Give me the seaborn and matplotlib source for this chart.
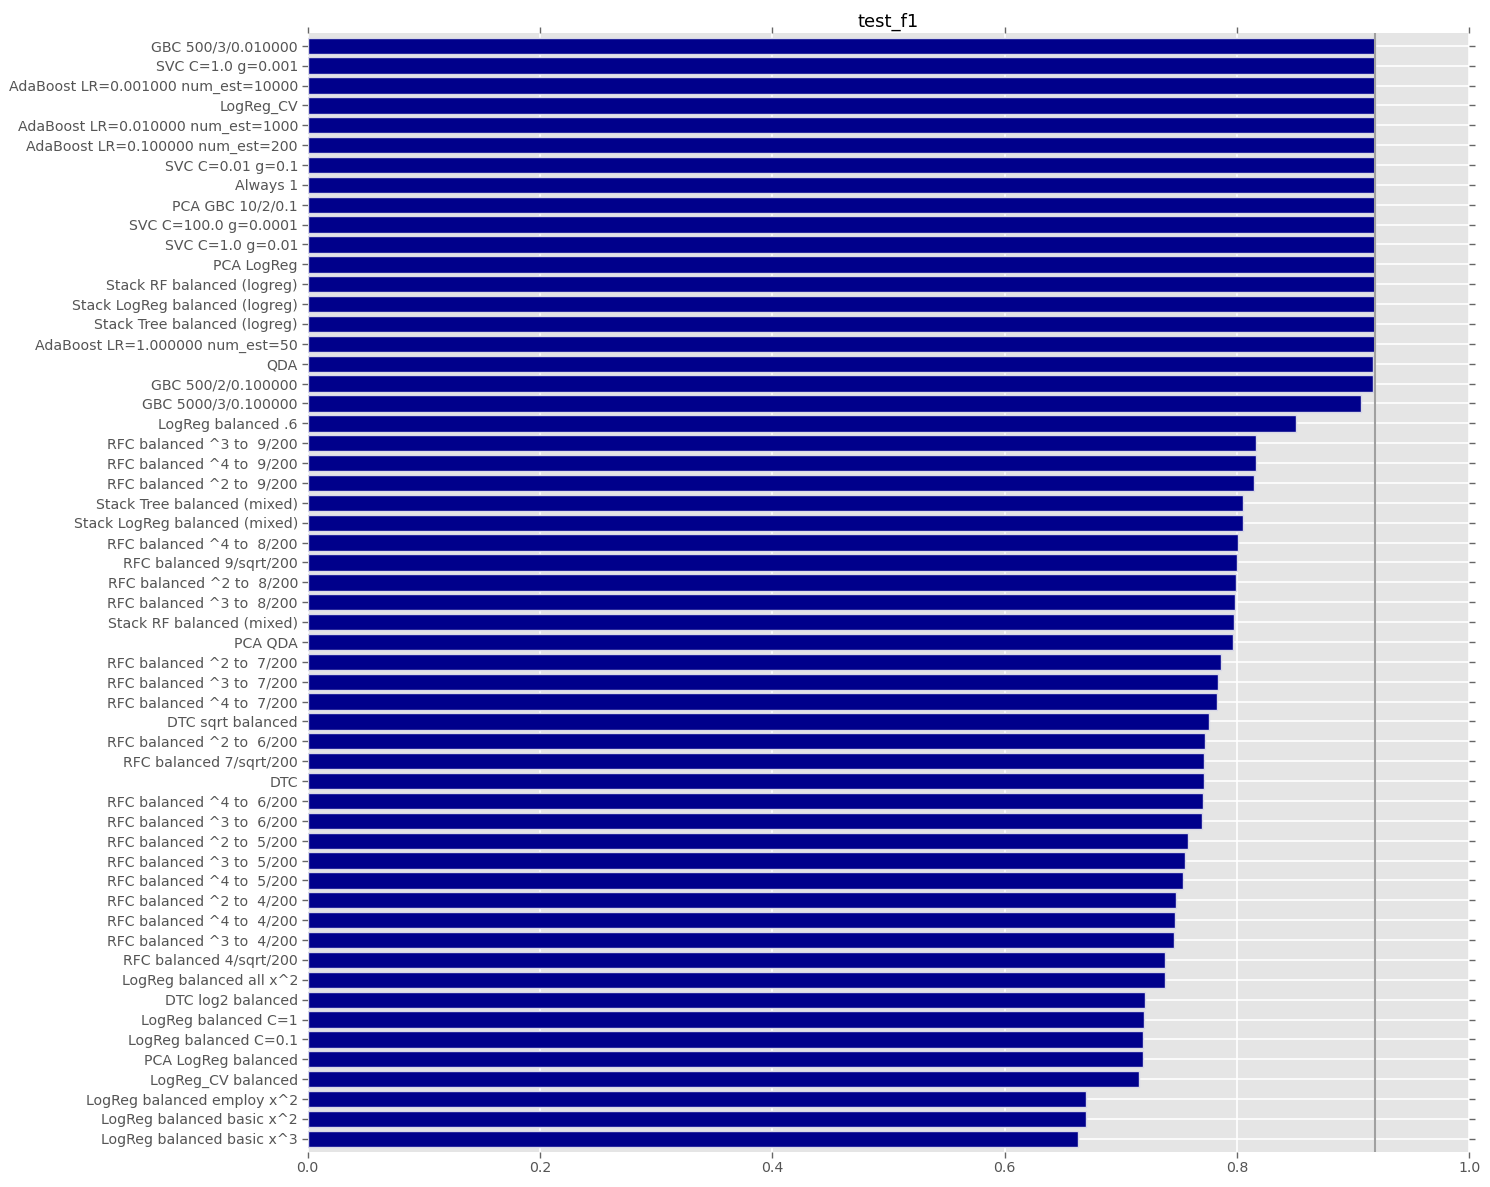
import matplotlib
matplotlib.use("Agg")
import matplotlib.pyplot as plt
import seaborn as sns
import pandas as pd

labels = [
    "GBC 500/3/0.010000", "SVC C=1.0 g=0.001", "AdaBoost LR=0.001000 num_est=10000",
    "LogReg_CV", "AdaBoost LR=0.010000 num_est=1000", "AdaBoost LR=0.100000 num_est=200",
    "SVC C=0.01 g=0.1", "Always 1", "PCA GBC 10/2/0.1", "SVC C=100.0 g=0.0001",
    "SVC C=1.0 g=0.01", "PCA LogReg", "Stack RF balanced (logreg)",
    "Stack LogReg balanced (logreg)", "Stack Tree balanced (logreg)",
    "AdaBoost LR=1.000000 num_est=50", "QDA", "GBC 500/2/0.100000",
    "GBC 5000/3/0.100000", "LogReg balanced .6",
    "RFC balanced ^3 to  9/200", "RFC balanced ^4 to  9/200", "RFC balanced ^2 to  9/200",
    "Stack Tree balanced (mixed)", "Stack LogReg balanced (mixed)",
    "RFC balanced ^4 to  8/200", "RFC balanced 9/sqrt/200", "RFC balanced ^2 to  8/200",
    "RFC balanced ^3 to  8/200", "Stack RF balanced (mixed)", "PCA QDA",
    "RFC balanced ^2 to  7/200", "RFC balanced ^3 to  7/200", "RFC balanced ^4 to  7/200",
    "DTC sqrt balanced", "RFC balanced ^2 to  6/200", "RFC balanced 7/sqrt/200", "DTC",
    "RFC balanced ^4 to  6/200", "RFC balanced ^3 to  6/200", "RFC balanced ^2 to  5/200",
    "RFC balanced ^3 to  5/200", "RFC balanced ^4 to  5/200", "RFC balanced ^2 to  4/200",
    "RFC balanced ^4 to  4/200", "RFC balanced ^3 to  4/200", "RFC balanced 4/sqrt/200",
    "LogReg balanced all x^2", "DTC log2 balanced", "LogReg balanced C=1",
    "LogReg balanced C=0.1", "PCA LogReg balanced", "LogReg_CV balanced",
    "LogReg balanced employ x^2", "LogReg balanced basic x^2", "LogReg balanced basic x^3",
]

test_f1 = [
    0.9191, 0.9191, 0.9191, 0.9191, 0.9191, 0.9191, 0.9191, 0.9191, 0.9191, 0.9191,
    0.9191, 0.9191, 0.9191, 0.9191, 0.9191, 0.9191, 0.9175, 0.9175,
    0.907, 0.851,
    0.8165, 0.8165, 0.815, 0.8053, 0.8053,
    0.801, 0.800, 0.799, 0.7985, 0.7975, 0.7967,
    0.7864, 0.7838, 0.783, 0.776, 0.7726, 0.7717, 0.7717,
    0.771, 0.770, 0.758, 0.7554, 0.7537, 0.7476,
    0.7468, 0.7459, 0.7382, 0.7382, 0.7209, 0.720,
    0.7192, 0.7192, 0.7158, 0.670, 0.670, 0.6632,
]

baseline = 0.9191

sns.set_theme(style="darkgrid")
plt.rcParams["font.family"] = ["DejaVu Sans"]

fig = plt.figure(figsize=(14.9, 11.87), dpi=100)
ax = fig.add_axes([0.2065, 0.0297, 0.986 - 0.2065, 0.9720 - 0.0297])
ax.set_facecolor("#E5E5E5")

df = pd.DataFrame({"model": labels, "test_f1": test_f1})
sns.barplot(data=df, x="test_f1", y="model", orient="h", color="#00008B",
            saturation=1, edgecolor="#D8D8E8", linewidth=1, width=0.82, ax=ax)

ax.axvline(baseline, color="#A0A0A0", linewidth=1.5, zorder=5)

ax.set_xlim(0, 1.0)
ax.set_ylim(len(labels) - 0.35, -0.63)
ax.set_xticks([0.0, 0.2, 0.4, 0.6, 0.8, 1.0])
ax.set_xticklabels(["0.0", "0.2", "0.4", "0.6", "0.8", "1.0"])
ax.set_xlabel("")
ax.set_ylabel("")
ax.set_title("test_f1", fontsize=13, color="black", pad=5)

ax.grid(True, color="white", linewidth=1.2)
ax.set_axisbelow(True)
for s in ax.spines.values():
    s.set_visible(False)

ax.tick_params(axis="both", which="major", direction="out", length=4, width=1,
               color="#666666", labelcolor="#555555", labelsize=10.15,
               left=True, right=True, top=True, bottom=True, pad=3)

fig.savefig("out.png", dpi=100)
